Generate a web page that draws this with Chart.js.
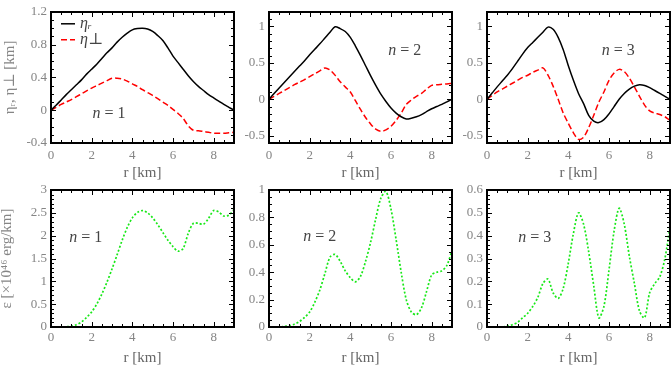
<!DOCTYPE html>
<html>
<head>
<meta charset="utf-8">
<script src="https://cdn.jsdelivr.net/npm/chart.js@4.4.0/dist/chart.umd.min.js"></script>
<style>
  body { margin: 0; background: #fff; overflow: hidden; }
  #wrap { position: relative; width: 671px; height: 366px; }
  #wrap canvas { position: absolute; left: 0; top: 0; }
</style>
</head>
<body>
<div id="wrap">
  <canvas id="p1" width="671" height="366"></canvas>
  <canvas id="p2" width="671" height="366"></canvas>
  <canvas id="p3" width="671" height="366"></canvas>
  <canvas id="p4" width="671" height="366"></canvas>
  <canvas id="p5" width="671" height="366"></canvas>
  <canvas id="p6" width="671" height="366"></canvas>
</div>
<script>
// radio r [km], paso 0.25
const radius = [0, 0.25, 0.5, 0.75, 1, 1.25, 1.5, 1.75, 2, 2.25, 2.5, 2.75, 3, 3.25, 3.5, 3.75, 4, 4.25, 4.5,
  4.75, 5, 5.25, 5.5, 5.75, 6, 6.25, 6.5, 6.75, 7, 7.25, 7.5, 7.75, 8, 8.25, 8.5, 8.75, 9];

// desplazamientos eta_r y eta_perp [km]
const etaR1 = [0, 0.06, 0.125, 0.19, 0.25, 0.31, 0.37, 0.44, 0.50, 0.56, 0.63, 0.70, 0.76, 0.83, 0.89, 0.94, 0.98, 0.995, 1.0,
  0.99, 0.96, 0.91, 0.85, 0.76, 0.66, 0.58, 0.50, 0.42, 0.35, 0.29, 0.24, 0.19, 0.15, 0.11, 0.07, 0.035, 0];
const etaP1 = [0, 0.035, 0.07, 0.10, 0.13, 0.165, 0.20, 0.235, 0.27, 0.30, 0.33, 0.36, 0.39, 0.39, 0.38, 0.355, 0.32, 0.29, 0.25,
  0.215, 0.18, 0.14, 0.10, 0.06, 0.01, -0.04, -0.10, -0.19, -0.245, -0.25, -0.26, -0.27, -0.28, -0.28, -0.28, -0.275, -0.27];
const etaR2 = [0, 0.08, 0.155, 0.23, 0.305, 0.38, 0.455, 0.53, 0.61, 0.685, 0.76, 0.84, 0.92, 0.995, 0.97, 0.93, 0.85, 0.73, 0.60,
  0.46, 0.32, 0.19, 0.07, -0.03, -0.12, -0.19, -0.24, -0.27, -0.26, -0.24, -0.21, -0.17, -0.13, -0.10, -0.07, -0.035, 0];
const etaP2 = [0, 0.04, 0.08, 0.12, 0.16, 0.20, 0.235, 0.27, 0.31, 0.35, 0.39, 0.43, 0.40, 0.33, 0.24, 0.17, 0.10, -0.02, -0.14,
  -0.25, -0.34, -0.41, -0.44, -0.42, -0.37, -0.29, -0.19, -0.07, -0.01, 0.04, 0.08, 0.14, 0.19, 0.20, 0.205, 0.21, 0.22];
const etaR3 = [0, 0.085, 0.17, 0.25, 0.33, 0.42, 0.52, 0.62, 0.71, 0.78, 0.85, 0.92, 0.99, 0.96, 0.85, 0.68, 0.46, 0.26, 0.08,
  -0.06, -0.22, -0.30, -0.32, -0.28, -0.20, -0.10, 0, 0.08, 0.14, 0.18, 0.20, 0.19, 0.16, 0.12, 0.08, 0.04, 0];
const etaP3 = [0, 0.05, 0.10, 0.14, 0.18, 0.22, 0.26, 0.30, 0.33, 0.37, 0.40, 0.43, 0.33, 0.18, 0, -0.19, -0.33, -0.46, -0.55,
  -0.52, -0.39, -0.22, -0.04, 0.10, 0.26, 0.36, 0.41, 0.38, 0.29, 0.17, 0.04, -0.08, -0.16, -0.19, -0.21, -0.24, -0.29];

// energia epsilon [x10^46 erg/km]
const eps1 = [0, 0, 0, 0.005, 0.015, 0.05, 0.11, 0.21, 0.33, 0.5, 0.72, 0.98, 1.27, 1.58, 1.9, 2.18, 2.39, 2.51, 2.55,
  2.5, 2.39, 2.24, 2.07, 1.9, 1.76, 1.66, 1.72, 2.05, 2.27, 2.27, 2.25, 2.38, 2.55, 2.52, 2.43, 2.45, 2.57];
const eps2 = [0, 0, 0, 0.005, 0.01, 0.02, 0.04, 0.07, 0.11, 0.18, 0.27, 0.39, 0.51, 0.53, 0.48, 0.41, 0.36, 0.33, 0.37,
  0.48, 0.62, 0.79, 0.94, 0.99, 0.86, 0.64, 0.40, 0.20, 0.11, 0.09, 0.14, 0.26, 0.38, 0.40, 0.41, 0.45, 0.56];
const eps3 = [0, 0, 0, 0, 0.005, 0.01, 0.02, 0.04, 0.06, 0.09, 0.13, 0.19, 0.21, 0.15, 0.125, 0.17, 0.28, 0.41, 0.50,
  0.45, 0.33, 0.18, 0.04, 0.09, 0.25, 0.42, 0.52, 0.45, 0.31, 0.19, 0.07, 0.04, 0.15, 0.19, 0.22, 0.30, 0.44];

// ejes
const yTicks1 = [-0.4, 0, 0.4, 0.8, 1.2];
const yTicks23 = [-0.5, 0, 0.5, 1];
const modeLabels = ['n = 1', 'n = 2', 'n = 3'];

const W = 671, H = 366;
const FONT = "'Liberation Serif', 'DejaVu Serif', serif";
const GRAY = '#858585';

function pts(vals) {
  return radius.map((r, i) => ({ x: r, y: vals[i] }));
}

// marco y marcas hacia dentro en los cuatro lados (rectangulos rellenos)
function drawFrame(chart, o) {
  const ctx = chart.ctx;
  const a = chart.chartArea;
  const L = Math.round(a.left), R = Math.round(a.right), T = Math.round(a.top), B = Math.round(a.bottom);
  ctx.setTransform(1, 0, 0, 1, 0, 0);
  ctx.globalAlpha = 1;
  ctx.globalCompositeOperation = 'source-over';
  ctx.setLineDash([]);
  ctx.fillStyle = '#000';
  const marks = (scale, minor, major, horiz) => {
    const n = Math.round((scale.max - scale.min) / minor);
    for (let i = 0; i <= n; i++) {
      const v = scale.min + i * minor;
      const isMajor = Math.abs(v / major - Math.round(v / major)) < 1e-6;
      const len = isMajor ? 5 : 3;
      const p = Math.round(scale.getPixelForValue(v));
      if (horiz) {
        ctx.fillRect(p, B - len, 1, len);
        ctx.fillRect(p, T, 1, len);
      } else {
        ctx.fillRect(L, p, len, 1);
        ctx.fillRect(R - len, p, len, 1);
      }
    }
  };
  marks(chart.scales.x, o.xMinor, o.xMajor, true);
  marks(chart.scales.y, o.yMinor, o.yMajor, false);
  ctx.fillRect(L - 1, T - 1, R - L + 2, 2);
  ctx.fillRect(L - 1, B - 1, R - L + 2, 2);
  ctx.fillRect(L - 1, T - 1, 2, B - T + 2);
  ctx.fillRect(R - 1, T - 1, 2, B - T + 2);
}

// leyenda dentro del area: muestra de linea + texto, tomados de los datasets
function drawLegend(chart, o) {
  const { ctx, chartArea: a } = chart;
  chart.data.datasets.forEach((ds, i) => {
    const yy = a.top + o.top + i * o.rowGap;
    ctx.strokeStyle = ds.borderColor;
    ctx.lineWidth = ds.borderWidth;
    ctx.setLineDash(ds.borderDash || []);
    ctx.beginPath();
    ctx.moveTo(a.left + o.left, yy);
    ctx.lineTo(a.left + o.left + o.len, yy);
    ctx.stroke();
    ctx.setLineDash([]);
    ctx.fillStyle = '#444';
    ctx.textBaseline = 'middle';
    ctx.font = 'italic 16px ' + FONT;
    ctx.fillText(ds.label, a.left + o.left + o.len + 5, yy);
  });
}

// etiqueta "n = k" con n en cursiva
function drawModeLabel(chart, o) {
  const { ctx } = chart;
  const px = chart.scales.x.getPixelForValue(o.x), py = chart.scales.y.getPixelForValue(o.y);
  const parts = o.text.split(' ');
  ctx.fillStyle = '#444';
  ctx.textBaseline = 'middle';
  ctx.font = 'italic 16px ' + FONT;
  const w1 = ctx.measureText(parts[0]).width;
  ctx.font = '16px ' + FONT;
  const rest = ' ' + parts.slice(1).join(' ');
  const w2 = ctx.measureText(rest).width;
  const left = px - (w1 + w2) / 2;
  ctx.font = 'italic 16px ' + FONT;
  ctx.fillText(parts[0], left, py);
  ctx.font = '16px ' + FONT;
  ctx.fillText(rest, left + w1, py);
}

const panelDecor = {
  id: 'panelDecor',
  afterDraw(chart) {
    const info = chart.$panel;
    if (!info) return;
    const ctx = chart.ctx;
    ctx.save();
    drawFrame(chart, info.frame);
    ctx.restore();
    ctx.save();
    drawModeLabel(chart, info.label);
    ctx.restore();
    if (info.legend) {
      ctx.save();
      drawLegend(chart, info.legend);
      ctx.restore();
    }
  }
};

function makePanel(id, area, cfg) {
  const fmt = v => String(+Number(v).toFixed(2));
  const chart = new Chart(document.getElementById(id), {
    type: 'line',
    data: { datasets: cfg.datasets },
    plugins: [panelDecor],
    options: {
      responsive: false,
      animation: false,
      devicePixelRatio: 1,
      layout: {
        autoPadding: false,
        padding: { left: area.left - cfg.yW, top: area.top, right: W - area.right, bottom: H - area.bottom - cfg.xH }
      },
      elements: { point: { radius: 0 }, line: { tension: 0.3 } },
      plugins: {
        tooltip: { enabled: false },
        legend: { display: false }
      },
      scales: {
        x: {
          type: 'linear', min: 0, max: 9,
          afterFit: s => { s.height = cfg.xH; },
          grid: { display: false, drawTicks: false },
          border: { display: false },
          ticks: { stepSize: 2, includeBounds: false, maxRotation: 0, padding: cfg.xPad, color: GRAY,
                   font: { family: FONT, size: 13 }, callback: fmt },
          title: { display: true, text: 'r [km]', color: '#666', padding: 0,
                   font: { family: FONT, size: 15, lineHeight: 1 } }
        },
        y: {
          type: 'linear', min: cfg.yMin, max: cfg.yMax,
          afterFit: s => { s.width = cfg.yW; },
          grid: { display: false, drawTicks: false },
          border: { display: false },
          afterBuildTicks: s => { s.ticks = cfg.yTicks.map(v => ({ value: v })); },
          ticks: { padding: 4, color: GRAY, font: { family: FONT, size: 13 }, callback: fmt },
          title: { display: !!cfg.yTitle, text: cfg.yTitle || '', color: GRAY, padding: { top: cfg.yTitlePad || 0, bottom: 0 },
                   font: { family: FONT, size: 15, lineHeight: 1 } }
        }
      }
    }
  });
  chart.$panel = cfg;
  chart.draw();
}

const black = vals => ({ label: 'ηᵣ', data: pts(vals), borderColor: '#000', borderWidth: 1.5 });
const red = vals => ({ label: 'η⊥', data: pts(vals), borderColor: '#ff0000', borderWidth: 1.5, borderDash: [6, 3] });
const green = vals => ({ label: 'ε', data: pts(vals), borderColor: '#18e818', borderWidth: 1.7, borderDash: [2, 2] });

makePanel('p1', { left: 51, right: 234, top: 5, bottom: 143 }, {
  datasets: [black(etaR1), red(etaP1)], legend: { left: 10, top: 12, rowGap: 16, len: 14 },
  yMin: -0.4, yMax: 1.2, yTicks: yTicks1, yW: 51, xH: 37.5, xPad: 5,
  yTitle: 'ηᵣ, η⊥ [km]', yTitlePad: 3,
  frame: { xMinor: 0.5, xMajor: 2, yMinor: 0.1, yMajor: 0.4 },
  label: { text: modeLabels[0], x: 2.85, y: -0.04 }
});
makePanel('p2', { left: 269, right: 452, top: 5, bottom: 143 }, {
  datasets: [black(etaR2), red(etaP2)],
  yMin: -0.6, yMax: 1.2, yTicks: yTicks23, yW: 30, xH: 37.5, xPad: 5,
  frame: { xMinor: 0.5, xMajor: 2, yMinor: 0.1, yMajor: 0.5 },
  label: { text: modeLabels[1], x: 6.68, y: 0.67 }
});
makePanel('p3', { left: 487, right: 670, top: 5, bottom: 143 }, {
  datasets: [black(etaR3), red(etaP3)],
  yMin: -0.6, yMax: 1.2, yTicks: yTicks23, yW: 30, xH: 37.5, xPad: 5,
  frame: { xMinor: 0.5, xMajor: 2, yMinor: 0.1, yMajor: 0.5 },
  label: { text: modeLabels[2], x: 6.45, y: 0.67 }
});
makePanel('p4', { left: 51, right: 234, top: 190, bottom: 327 }, {
  datasets: [green(eps1)],
  yMin: 0, yMax: 3, yTicks: [0, 0.5, 1, 1.5, 2, 2.5, 3], yW: 51, xH: 38.5, xPad: 3,
  yTitle: 'ε [×10⁴⁶ erg/km]', yTitlePad: 0,
  frame: { xMinor: 0.5, xMajor: 2, yMinor: 0.1, yMajor: 0.5 },
  label: { text: modeLabels[0], x: 1.71, y: 1.96 }
});
makePanel('p5', { left: 269, right: 452, top: 190, bottom: 327 }, {
  datasets: [green(eps2)],
  yMin: 0, yMax: 1, yTicks: [0, 0.2, 0.4, 0.6, 0.8, 1], yW: 30, xH: 38.5, xPad: 3,
  frame: { xMinor: 0.5, xMajor: 2, yMinor: 0.05, yMajor: 0.2 },
  label: { text: modeLabels[1], x: 2.5, y: 0.66 }
});
makePanel('p6', { left: 487, right: 670, top: 190, bottom: 327 }, {
  datasets: [green(eps3)],
  yMin: 0, yMax: 0.6, yTicks: [0, 0.1, 0.2, 0.3, 0.4, 0.5, 0.6], yW: 30, xH: 38.5, xPad: 3,
  frame: { xMinor: 0.5, xMajor: 2, yMinor: 0.02, yMajor: 0.1 },
  label: { text: modeLabels[2], x: 2.35, y: 0.39 }
});
</script>
</body>
</html>
